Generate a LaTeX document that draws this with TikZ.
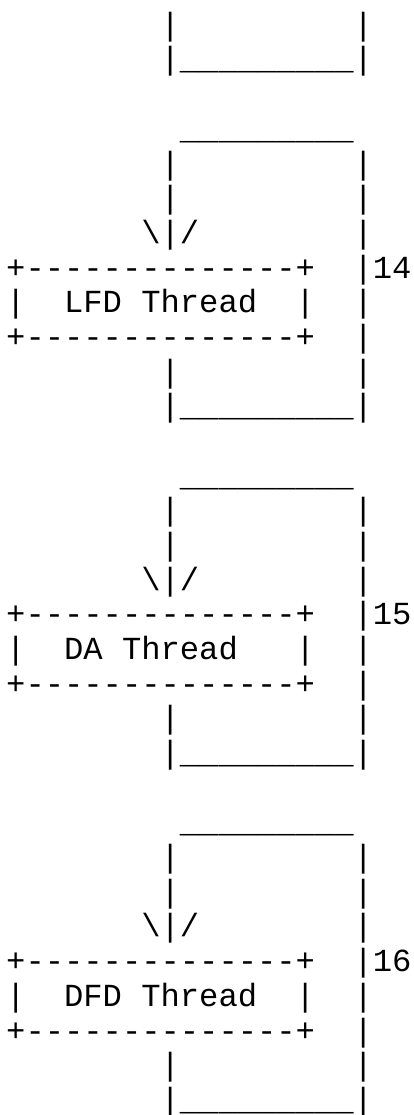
\documentclass[tikz,border=0pt]{standalone}
\usepackage{fontspec}
\newfontfamily\asciimono{Liberation Mono}[Ligatures=TeXOff]
\newcommand\bsl{\char92\relax}
\newcommand\usc{\char95\relax}
\newcommand\uscs{\usc\usc\usc\usc\usc\usc\usc\usc\usc}
\newcommand\dashes{-{}-{}-{}-{}-{}-{}-{}-{}-{}-{}-{}-{}-{}-}
\newcommand\seg[4]{\node[ascii] (#1) at ({6.2+#2*19.3},{35.3+(#3-1)*34.68}) {#4};}
\newcommand\threadblock[4]{%
  \seg{#1top}{9}{#2}{\uscs}
  \seg{#1la}{8}{#2+1}{|}\seg{#1ra}{18}{#2+1}{|}
  \seg{#1lb}{8}{#2+2}{|}\seg{#1rb}{18}{#2+2}{|}
  \seg{#1arrow}{7}{#2+3}{\bsl|/}\seg{#1rc}{18}{#2+3}{|}
  \seg{#1boxtop}{0}{#2+4}{+\dashes+}\seg{#1num}{18}{#2+4}{|#4}
  \seg{#1boxl}{0}{#2+5}{|}\seg{#1name}{3}{#2+5}{#3}\seg{#1boxr}{15}{#2+5}{|}\seg{#1re}{18}{#2+5}{|}
  \seg{#1boxbot}{0}{#2+6}{+\dashes+}\seg{#1rf}{18}{#2+6}{|}
  \seg{#1lg}{8}{#2+7}{|}\seg{#1rg}{18}{#2+7}{|}
  \seg{#1bottom}{8}{#2+8}{|\uscs|}
}
\begin{document}
\begin{tikzpicture}[x=1pt,y=-1pt,
  ascii/.style={anchor=base west,inner sep=0pt,outer sep=0pt,
    font=\asciimono\fontsize{32.17}{34.68}\selectfont}]
\useasboundingbox (0,0) rectangle (414,1115);
\seg{topl}{8}{1}{|}\seg{topr}{18}{1}{|}
\seg{topbottom}{8}{2}{|\uscs|}
\threadblock{lfd}{4}{LFD Thread}{14}
\threadblock{da}{14}{DA Thread}{15}
\threadblock{dfd}{24}{DFD Thread}{16}
\end{tikzpicture}
\end{document}
